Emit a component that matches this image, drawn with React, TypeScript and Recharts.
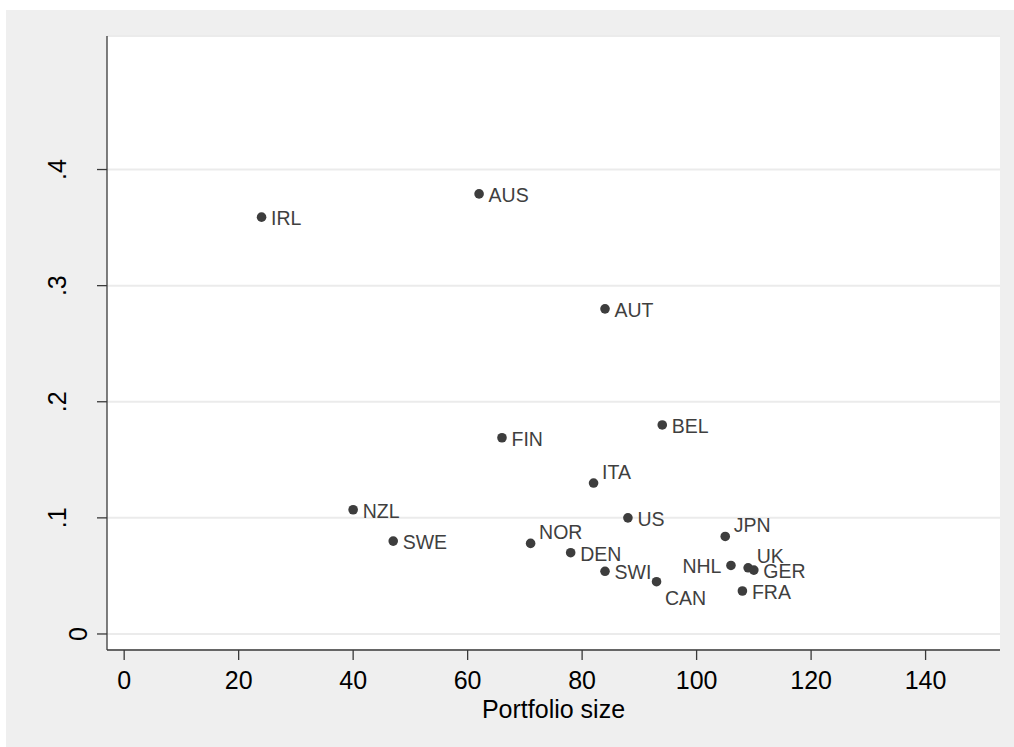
import React from 'react';
import {
  ScatterChart,
  Scatter,
  XAxis,
  YAxis,
  CartesianGrid,
  Label,
} from 'recharts';

// country codes and their values
const countries = ['IRL', 'AUS', 'AUT', 'BEL', 'FIN', 'ITA', 'NZL', 'SWE', 'NOR', 'DEN', 'US', 'SWI', 'CAN', 'JPN', 'NHL', 'UK', 'GER', 'FRA'];
const portfolioSize = [24, 62, 84, 94, 66, 82, 40, 47, 71, 78, 88, 84, 93, 105, 106, 109, 110, 108];
const share = [0.359, 0.379, 0.28, 0.18, 0.169, 0.13, 0.107, 0.08, 0.078, 0.07, 0.1, 0.054, 0.045, 0.084, 0.059, 0.057, 0.055, 0.037];

const xTicks = [0, 20, 40, 60, 80, 100, 120, 140];
const yTicks = [0, 0.1, 0.2, 0.3, 0.4];
const yTickLabels = ['0', '.1', '.2', '.3', '.4'];

// Stata style marker label positions (clock), default is 3
const labelClock: Record<string, number> = { NOR: 1, ITA: 1, JPN: 1, UK: 1, CAN: 4, NHL: 9 };

const FONT = '"Liberation Sans", Arial, sans-serif';
const AXIS = '#3a3a3a';

const data = countries.map((name, i) => ({ name, x: portfolioSize[i], y: share[i] }));

function MarkerWithLabel(props: any) {
  const { cx, cy, payload } = props;
  const clock = labelClock[payload.name] ?? 3;
  let tx = cx + 9.5;
  let ty = cy + 8;
  let anchor: 'start' | 'end' = 'start';
  if (clock === 1) {
    tx = cx + 8.5;
    ty = cy - 4.3;
  } else if (clock === 4) {
    tx = cx + 8.5;
    ty = cy + 23;
  } else if (clock === 9) {
    tx = cx - 9.5;
    anchor = 'end';
  }
  return (
    <g>
      <circle cx={cx} cy={cy} r={4.8} fill="#3d3d3d" />
      <text x={tx} y={ty} textAnchor={anchor} fontSize={19.5} fill="#3f3f3f" fontFamily={FONT}>
        {payload.name}
      </text>
    </g>
  );
}

function XTick(props: any) {
  const { x, y, payload } = props;
  return (
    <text x={x} y={y + 29} textAnchor="middle" fontSize={25} fill="#000" fontFamily={FONT}>
      {payload.value}
    </text>
  );
}

function YTick(props: any) {
  const { x, y, payload } = props;
  const idx = yTicks.indexOf(payload.value);
  const label = yTickLabels[idx] ?? String(payload.value);
  // single-character label sits closer to the axis, as in the original
  const bx = label.length === 1 ? x - 9.7 : x - 31;
  return (
    <text
      x={bx}
      y={y}
      textAnchor="middle"
      fontSize={25}
      fill="#000"
      fontFamily={FONT}
      transform={`rotate(-90, ${bx}, ${y})`}
    >
      {label}
    </text>
  );
}

export default function App() {
  return (
    <div
      style={{
        position: 'absolute',
        left: 6,
        top: 10,
        width: 1008,
        height: 737,
        background: '#efefef',
      }}
    >
      <ScatterChart
        width={1008}
        height={737}
        margin={{ top: 26, right: 14, left: 0, bottom: 0 }}
      >
        <CartesianGrid vertical={false} stroke="#ebebeb" strokeWidth={2} fill="#ffffff" fillOpacity={1} />
        <XAxis
          type="number"
          dataKey="x"
          domain={[-3, 153]}
          ticks={xTicks}
          allowDataOverflow
          height={97}
          tickSize={10}
          tickMargin={0}
          axisLine={{ stroke: AXIS, strokeWidth: 1.3 }}
          tickLine={{ stroke: AXIS, strokeWidth: 1.3 }}
          tick={<XTick />}
        >
          <Label value="Portfolio size" position="insideBottom" offset={29} fill="#000" fontSize={25} fontFamily={FONT} />
        </XAxis>
        <YAxis
          type="number"
          dataKey="y"
          domain={[-0.0138, 0.515]}
          ticks={yTicks}
          allowDataOverflow
          width={101}
          tickSize={10}
          tickMargin={0}
          axisLine={{ stroke: AXIS, strokeWidth: 1.3 }}
          tickLine={{ stroke: AXIS, strokeWidth: 1.3 }}
          tick={<YTick />}
        />
        <Scatter data={data} shape={<MarkerWithLabel />} isAnimationActive={false} />
      </ScatterChart>
    </div>
  );
}
